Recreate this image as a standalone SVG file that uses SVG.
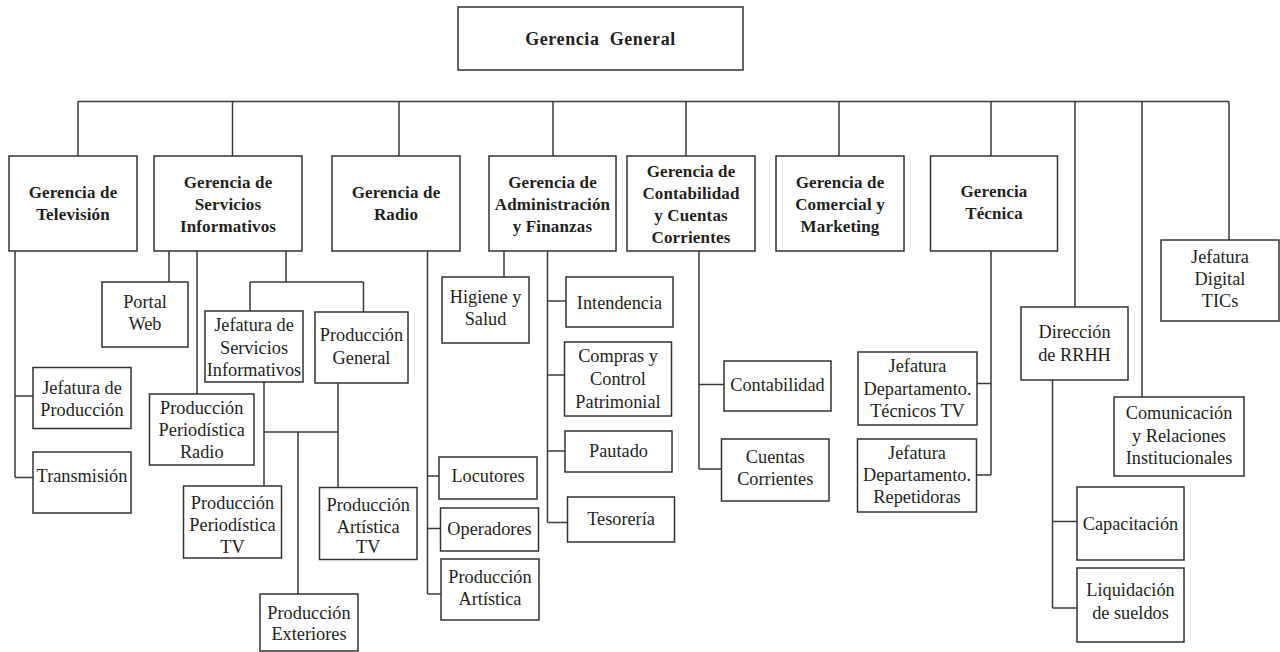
<svg xmlns="http://www.w3.org/2000/svg" width="1280" height="652" viewBox="0 0 1280 652">
<style>
.b{fill:#fff;stroke:#333;stroke-width:1.5}
.c{fill:none;stroke:#3a3a3a;stroke-width:1.5}
text{font-family:"Liberation Serif","DejaVu Serif",serif;fill:#231f20;text-anchor:middle}
.h{font-size:17px;font-weight:bold;letter-spacing:0.15px}
.t{font-size:18.3px}
</style>
<rect width="1280" height="652" fill="#fff"/>
<g id="connectors">
<path class="c" d="M78 101.5H1229M78 101.5V156M232.5 101.5V156M399 101.5V156M553 101.5V156M686 101.5V156M839 101.5V156M991 101.5V156M1075 101.5V307M1142 101.5V397M1229 101.5V240"/>
<path class="c" d="M15 251V477.5M15 396H33M15 477.5H33"/>
<path class="c" d="M169 251V282M197 251V394M286 251V282M250 282H363.5M250 282V311M363.5 282V312M264 382V486M264 432H338M338 383V487.5M298 432V594"/>
<path class="c" d="M427.5 251V594M427.5 476H439M427.5 528.5H440.5M427.5 594H441"/>
<path class="c" d="M504 251V277M547.5 251V522.5M547.5 301H566M547.5 375H564.5M547.5 451H565M547.5 522.5H567.5"/>
<path class="c" d="M699 251V469M699 384.5H724M699 469H721.5"/>
<path class="c" d="M991 251V475M991 383.5H977M991 475H976.5"/>
<path class="c" d="M1052.5 380V608M1052.5 521.5H1077M1052.5 608H1077"/>
</g>
<g id="gerencia-general"><rect class="b" x="458" y="7" width="285" height="63"/><text class="h" x="600.5" y="44.5" style="font-size:18px;letter-spacing:0.6px;word-spacing:5px">Gerencia General</text></g>
<g id="g-television"><rect class="b" x="9" y="156" width="128" height="95"/><text class="h" x="73" y="198">Gerencia de</text><text class="h" x="73" y="220">Televisión</text></g>
<g id="g-servicios"><rect class="b" x="154" y="156" width="148" height="95"/><text class="h" x="228" y="187.5">Gerencia de</text><text class="h" x="228" y="209.5">Servicios</text><text class="h" x="228" y="231.5">Informativos</text></g>
<g id="g-radio"><rect class="b" x="332" y="156" width="128" height="95"/><text class="h" x="396" y="198">Gerencia de</text><text class="h" x="396" y="220">Radio</text></g>
<g id="g-admin"><rect class="b" x="489" y="156" width="127" height="95"/><text class="h" x="552.5" y="187.5">Gerencia de</text><text class="h" x="552.5" y="209.5">Administración</text><text class="h" x="552.5" y="231.5">y Finanzas</text></g>
<g id="g-contab"><rect class="b" x="627" y="156" width="128" height="95"/><text class="h" x="691" y="177">Gerencia de</text><text class="h" x="691" y="199">Contabilidad</text><text class="h" x="691" y="221">y Cuentas</text><text class="h" x="691" y="243">Corrientes</text></g>
<g id="g-comercial"><rect class="b" x="776" y="156" width="128" height="95"/><text class="h" x="840" y="188">Gerencia de</text><text class="h" x="840" y="210">Comercial y</text><text class="h" x="840" y="232">Marketing</text></g>
<g id="g-tecnica"><rect class="b" x="930.5" y="156" width="127" height="95"/><text class="h" x="994" y="197">Gerencia</text><text class="h" x="994" y="219">Técnica</text></g>
<g id="jefatura-digital"><rect class="b" x="1161" y="240" width="118" height="81"/><text class="t" x="1220" y="262.5">Jefatura</text><text class="t" x="1220" y="284.5">Digital</text><text class="t" x="1220" y="306.5">TICs</text></g>
<g id="direccion-rrhh"><rect class="b" x="1021" y="307" width="107" height="73"/><text class="t" x="1074.5" y="338">Dirección</text><text class="t" x="1074.5" y="360.5">de RRHH</text></g>
<g id="comunicacion"><rect class="b" x="1114" y="397" width="130" height="79"/><text class="t" x="1179" y="419">Comunicación</text><text class="t" x="1179" y="441.5">y Relaciones</text><text class="t" x="1179" y="464">Institucionales</text></g>
<g id="capacitacion"><rect class="b" x="1077" y="487" width="107" height="73"/><text class="t" x="1130.5" y="529.5">Capacitación</text></g>
<g id="liquidacion"><rect class="b" x="1077" y="568" width="107" height="74"/><text class="t" x="1130.5" y="595.5">Liquidación</text><text class="t" x="1130.5" y="618.5">de sueldos</text></g>
<g id="jefatura-tecnicos"><rect class="b" x="858" y="352" width="119" height="73"/><text class="t" x="917.5" y="372">Jefatura</text><text class="t" x="917.5" y="395">Departamento.</text><text class="t" x="917.5" y="417">Técnicos TV</text></g>
<g id="jefatura-repetidoras"><rect class="b" x="857.5" y="439" width="119" height="73"/><text class="t" x="917" y="458.5">Jefatura</text><text class="t" x="917" y="481">Departamento.</text><text class="t" x="917" y="502.5">Repetidoras</text></g>
<g id="contabilidad"><rect class="b" x="724" y="361" width="107" height="50"/><text class="t" x="777.5" y="391">Contabilidad</text></g>
<g id="cuentas-corrientes"><rect class="b" x="721.5" y="439" width="107.5" height="62"/><text class="t" x="775.25" y="462.5">Cuentas</text><text class="t" x="775.25" y="484.5">Corrientes</text></g>
<g id="intendencia"><rect class="b" x="566" y="277" width="107" height="50"/><text class="t" x="619.5" y="308.5">Intendencia</text></g>
<g id="compras"><rect class="b" x="564.5" y="342" width="107" height="74"/><text class="t" x="618" y="362">Compras y</text><text class="t" x="618" y="385">Control</text><text class="t" x="618" y="408">Patrimonial</text></g>
<g id="pautado"><rect class="b" x="565" y="431" width="107" height="41"/><text class="t" x="618.5" y="457">Pautado</text></g>
<g id="tesoreria"><rect class="b" x="567.5" y="497" width="107" height="45"/><text class="t" x="621" y="525">Tesorería</text></g>
<g id="higiene"><rect class="b" x="442" y="277" width="87" height="66"/><text class="t" x="485.5" y="302.5">Higiene y</text><text class="t" x="485.5" y="324.5">Salud</text></g>
<g id="locutores"><rect class="b" x="439" y="457" width="98" height="42"/><text class="t" x="488" y="482">Locutores</text></g>
<g id="operadores"><rect class="b" x="440.5" y="508" width="98" height="43"/><text class="t" x="489.5" y="535">Operadores</text></g>
<g id="produccion-artistica"><rect class="b" x="441" y="559" width="98" height="61"/><text class="t" x="490" y="583">Producción</text><text class="t" x="490" y="605">Artística</text></g>
<g id="portal-web"><rect class="b" x="102" y="282" width="86" height="65"/><text class="t" x="145" y="307.5">Portal</text><text class="t" x="145" y="330">Web</text></g>
<g id="jefatura-servicios"><rect class="b" x="205" y="311" width="98" height="71"/><text class="t" x="254" y="331">Jefatura de</text><text class="t" x="254" y="354">Servicios</text><text class="t" x="254" y="376">Informativos</text></g>
<g id="produccion-general"><rect class="b" x="315" y="312" width="93" height="71"/><text class="t" x="361.5" y="341">Producción</text><text class="t" x="361.5" y="364">General</text></g>
<g id="pp-radio"><rect class="b" x="149.5" y="394" width="104.5" height="71"/><text class="t" x="201.75" y="414">Producción</text><text class="t" x="201.75" y="436">Periodística</text><text class="t" x="201.75" y="457.5">Radio</text></g>
<g id="jefatura-produccion"><rect class="b" x="33" y="367.5" width="98" height="61"/><text class="t" x="82" y="394">Jefatura de</text><text class="t" x="82" y="416">Producción</text></g>
<g id="transmision"><rect class="b" x="33" y="452" width="98" height="61"/><text class="t" x="82" y="482">Transmisión</text></g>
<g id="pp-tv"><rect class="b" x="183.5" y="486" width="98" height="72"/><text class="t" x="232.5" y="509">Producción</text><text class="t" x="232.5" y="531">Periodística</text><text class="t" x="232.5" y="552.5">TV</text></g>
<g id="pa-tv"><rect class="b" x="319.5" y="487.5" width="97.5" height="72"/><text class="t" x="368.25" y="511">Producción</text><text class="t" x="368.25" y="532.5">Artística</text><text class="t" x="368.25" y="553">TV</text></g>
<g id="produccion-exteriores"><rect class="b" x="260" y="594" width="98" height="57"/><text class="t" x="309" y="618.5">Producción</text><text class="t" x="309" y="640">Exteriores</text></g>
</svg>
